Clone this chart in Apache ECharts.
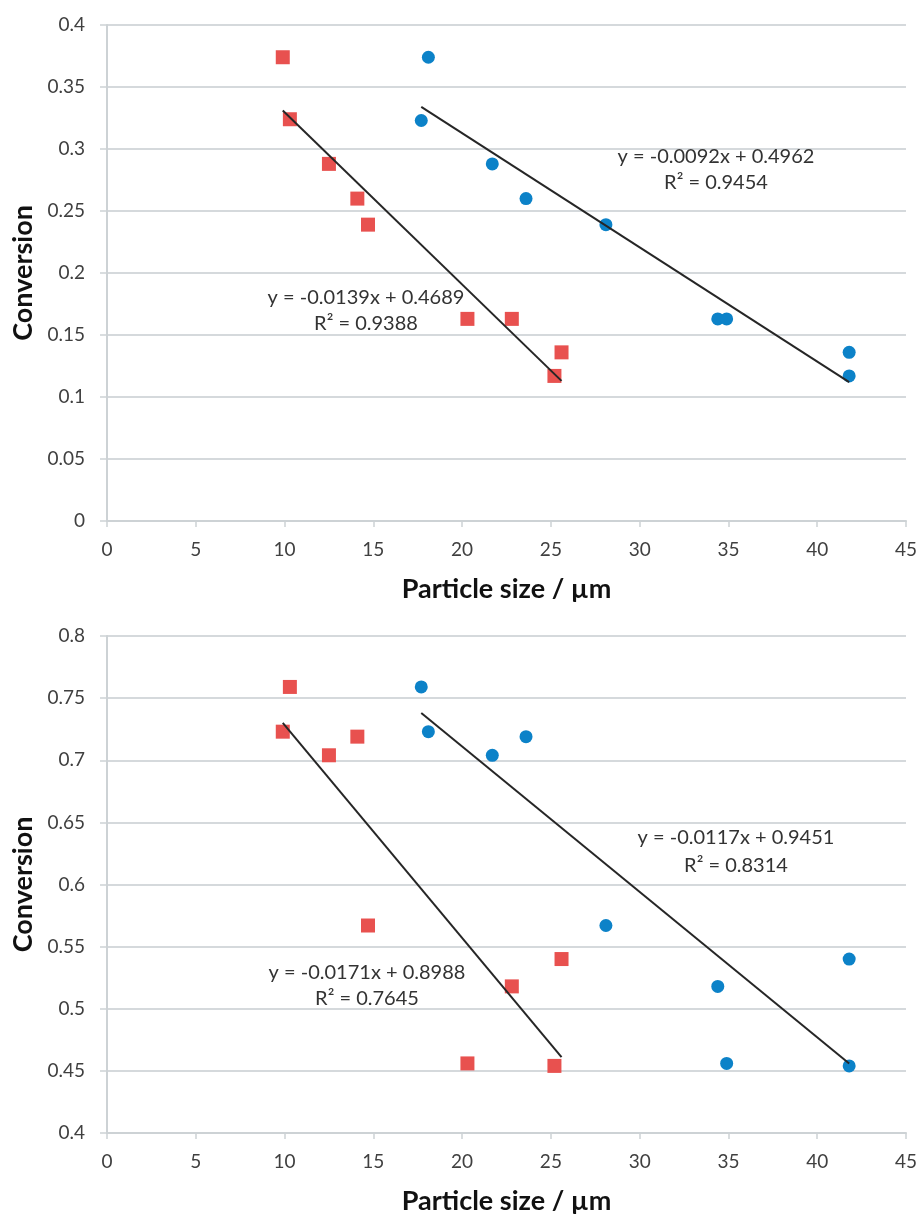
<!DOCTYPE html>
<html><head><meta charset="utf-8">
<script src="https://cdn.jsdelivr.net/npm/echarts@6/dist/echarts.min.js"></script>
<style>html,body{margin:0;padding:0;background:#fff}#c{width:920px;height:1216px}</style>
</head><body><div id="c"></div>
<script>
// Top panel data
const topRedX = [9.9, 10.3, 12.5, 14.1, 14.7, 20.3, 22.8, 25.6, 25.2];
const topRedY = [0.374, 0.324, 0.288, 0.260, 0.239, 0.163, 0.163, 0.136, 0.117];
const topBlueX = [18.1, 17.7, 21.7, 23.6, 28.1, 34.4, 34.9, 41.8, 41.8];
const topBlueY = [0.374, 0.323, 0.288, 0.260, 0.239, 0.163, 0.163, 0.136, 0.117];
const topRedTrendX = [9.9, 25.6];
const topRedTrendY = [0.331, 0.113];
const topBlueTrendX = [17.7, 41.8];
const topBlueTrendY = [0.334, 0.112];
// Bottom panel data
const botRedX = [10.3, 9.9, 12.5, 14.1, 14.7, 20.3, 22.8, 25.6, 25.2];
const botRedY = [0.759, 0.723, 0.704, 0.719, 0.567, 0.456, 0.518, 0.540, 0.454];
const botBlueX = [17.7, 18.1, 21.7, 23.6, 28.1, 34.4, 34.9, 41.8, 41.8];
const botBlueY = [0.759, 0.723, 0.704, 0.719, 0.567, 0.518, 0.456, 0.540, 0.454];
const botRedTrendX = [9.9, 25.6];
const botRedTrendY = [0.730, 0.461];
const botBlueTrendX = [17.7, 41.8];
const botBlueTrendY = [0.738, 0.456];
// Labels
const xName = 'Particle size / µm';
const yName = 'Conversion';
const eqTopRed = ['y = -0.0139x + 0.4689', 'R² = 0.9388'];
const eqTopBlue = ['y = -0.0092x + 0.4962', 'R² = 0.9454'];
const eqBotRed = ['y = -0.0171x + 0.8988', 'R² = 0.7645'];
const eqBotBlue = ['y = -0.0117x + 0.9451', 'R² = 0.8314'];

const zip = (xs, ys) => xs.map((x, i) => [x, ys[i]]);
const FONT = 'Lato, "Open Sans", sans-serif';
const RED = '#E8514F', BLUE = '#0C82C8';
const AX = '#cdd2d5';

function xAxis(gi) {
  return {
    gridIndex: gi, type: 'value', min: 0, max: 45, interval: 5,
    name: xName, nameLocation: 'middle', nameGap: 55,
    nameTextStyle: { fontFamily: FONT, fontSize: 27, fontWeight: 'bold', color: '#111' },
    axisLine: { show: true, lineStyle: { color: AX, width: 2 } },
    axisTick: { show: true, length: 6, lineStyle: { color: AX, width: 1.5 } },
    axisLabel: { fontFamily: FONT, fontSize: 19, color: '#404040', margin: 19 },
    splitLine: { show: false }
  };
}
function yAxis(gi, min, max) {
  return {
    gridIndex: gi, type: 'value', min: min, max: max, interval: 0.05,
    name: yName, nameLocation: 'middle', nameGap: 69, nameRotate: 90,
    nameTextStyle: { fontFamily: FONT, fontSize: 27, fontWeight: 'bold', color: '#111' },
    axisLine: { show: true, lineStyle: { color: AX, width: 2 } },
    axisTick: { show: true, length: 7, lineStyle: { color: AX, width: 1.5 } },
    axisLabel: { fontFamily: FONT, fontSize: 19, color: '#404040', margin: 22,
      formatter: v => String(+v.toFixed(2)) },
    splitLine: { show: true, lineStyle: { color: '#d5d9dc', width: 2 } }
  };
}
function scatter(gi, data, color, sym, size) {
  return { type: 'scatter', xAxisIndex: gi, yAxisIndex: gi, data: data,
    symbol: sym, symbolSize: size, itemStyle: { color: color, opacity: 1 }, z: 3 };
}
function trend(gi, data) {
  return { type: 'line', xAxisIndex: gi, yAxisIndex: gi, data: data, symbol: 'none',
    lineStyle: { color: '#262626', width: 2 }, z: 4, silent: true };
}

const chart = echarts.init(document.getElementById('c'), null, { renderer: 'canvas' });
chart.setOption({
  animation: false,
  backgroundColor: '#fff',
  grid: [
    { left: 107, width: 800, top: 25, height: 496 },
    { left: 107, width: 800, top: 636, height: 499 }
  ],
  xAxis: [xAxis(0), xAxis(1)],
  yAxis: [yAxis(0, 0, 0.4), yAxis(1, 0.4, 0.8)],
  series: [
    scatter(0, zip(topRedX, topRedY), RED, 'rect', 14),
    scatter(0, zip(topBlueX, topBlueY), BLUE, 'circle', 13),
    trend(0, zip(topRedTrendX, topRedTrendY)),
    trend(0, zip(topBlueTrendX, topBlueTrendY)),
    scatter(1, zip(botRedX, botRedY), RED, 'rect', 14),
    scatter(1, zip(botBlueX, botBlueY), BLUE, 'circle', 13),
    trend(1, zip(botRedTrendX, botRedTrendY)),
    trend(1, zip(botBlueTrendX, botBlueTrendY))
  ]
});
const g = [];
[[eqTopRed, 366, 298, 26], [eqTopBlue, 716, 157, 26], [eqBotRed, 367, 973, 26], [eqBotBlue, 736, 838, 28]].forEach(a => {
  a[0].forEach((t, i) => g.push({
    type: 'text', x: a[1], y: a[2] + i * a[3], z: 10,
    style: { text: t, font: '20px ' + FONT, fill: '#333', align: 'center', verticalAlign: 'middle' }
  }));
});
chart.setOption({ graphic: g });
</script></body></html>
